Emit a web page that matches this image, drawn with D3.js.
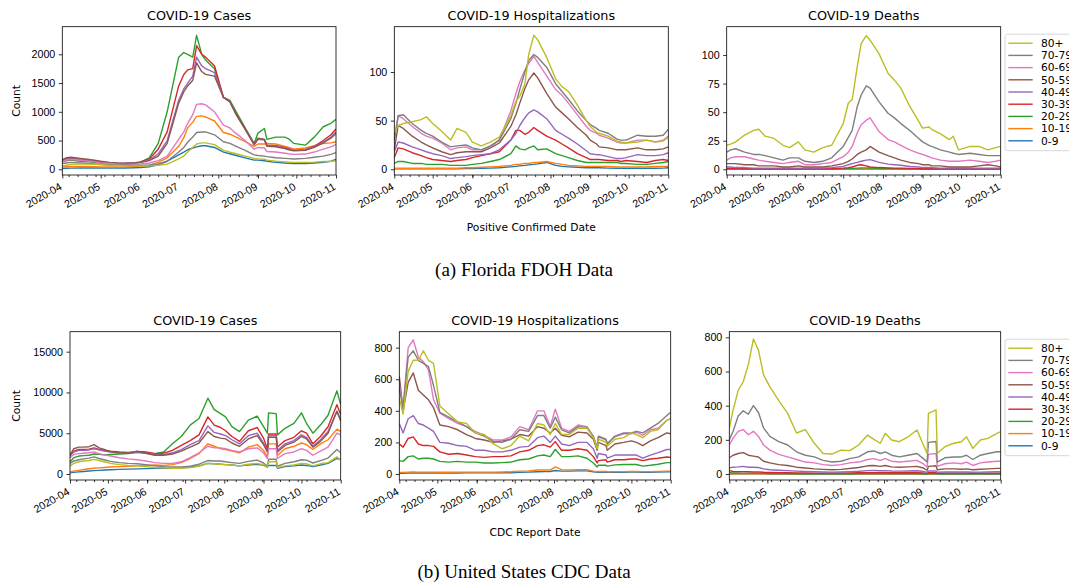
<!DOCTYPE html>
<html>
<head>
<meta charset="utf-8">
<script src="https://cdn.jsdelivr.net/npm/d3@7"></script>
<style>
  body { margin: 0; background: #fff; }
  svg { display: block; font-family: "DejaVu Sans", sans-serif; }
  .axis text { font-size: 10.7px; fill: #000; }
  .axis line { stroke: #000; stroke-width: 0.8; }
  .panel-title { font-size: 12.8px; text-anchor: middle; }
  .axis-title { font-size: 10.7px; text-anchor: middle; }
  .legend text { font-size: 10.7px; }
  .caption { font-family: "Liberation Serif", "DejaVu Serif", serif; font-size: 19px; text-anchor: middle; }
</style>
</head>
<body>
<svg id="chart" width="1069" height="586"></svg>
<script>
const AGE_GROUPS = ['0-9', '10-19', '20-29', '30-39', '40-49', '50-59', '60-69', '70-79', '80+'];
const AGE_COLORS = ['#1f77b4', '#ff7f0e', '#2ca02c', '#d62728', '#9467bd', '#8c564b', '#e377c2', '#7f7f7f', '#bcbd22'];
const MONTH_TICKS = ['2020-04-01', '2020-05-01', '2020-06-01', '2020-07-01', '2020-08-01', '2020-09-01', '2020-10-01', '2020-11-01'];

// Florida FDOH, by positive confirmed date
const FL_DATES = ['2020-04-01','2020-04-04','2020-04-08','2020-04-15','2020-04-22','2020-04-26',
  '2020-05-01','2020-05-08','2020-05-15','2020-05-20','2020-05-27',
  '2020-06-01','2020-06-08','2020-06-15','2020-06-22',
  '2020-07-01','2020-07-05','2020-07-08','2020-07-12','2020-07-15','2020-07-19','2020-07-22','2020-07-29',
  '2020-08-05','2020-08-10','2020-08-15','2020-08-22','2020-08-29',
  '2020-09-01','2020-09-06','2020-09-08','2020-09-15','2020-09-22','2020-09-25','2020-09-29',
  '2020-10-08','2020-10-15','2020-10-22','2020-10-28','2020-11-01'];

const FL_CASES = [
  [15,18,20,22,22,22, 22,22,22,24,28, 32,45,80,140, 250,300,340,370,390,410,410,380, 300,270,240,200,160, 160,150,140,120,110,105,100, 100,110,120,140, 170],
  [40,45,50,50,48,45, 42,40,40,42,48, 55,70,120,200, 400,550,720,820,920,930,910,840, 640,610,560,480,400, 440,440,450,440,400,380,350, 370,410,450,460, 480],
  [130,150,160,140,130,120, 110,105,100,100,110, 120,200,450,1000, 1950,2030,2000,1950,2330,2000,1900,1750, 1250,1200,1000,720,450, 630,710,520,560,560,530,450, 420,560,740,800, 870],
  [150,180,190,170,150,140, 120,110,100,100,110, 130,180,350,650, 1450,1650,1730,1750,2150,2000,1950,1800, 1250,1180,950,700,430, 530,520,420,410,380,360,330, 340,400,500,600, 700],
  [160,190,200,180,160,150, 130,115,100,100,110, 120,160,270,500, 1200,1400,1500,1620,1950,1800,1750,1680, 1250,1170,950,700,430, 520,510,410,400,370,350,330, 340,390,470,560, 650],
  [170,200,210,190,170,160, 140,120,105,100,110, 120,150,230,450, 1150,1350,1450,1550,1850,1700,1650,1620, 1250,1180,960,700,440, 540,520,400,390,360,340,320, 330,380,460,540, 620],
  [130,160,170,160,140,130, 110,100,90,85,90, 95,110,150,230, 520,650,800,950,1130,1140,1120,1000, 770,720,620,500,350, 380,370,310,300,280,270,260, 265,300,350,390, 430],
  [100,110,120,110,100,95, 85,80,75,70,70, 70,75,95,140, 300,380,470,560,640,650,650,600, 480,450,400,330,250, 240,230,220,200,190,185,180, 190,210,230,260, 290],
  [60,70,85,90,90,85, 80,70,65,60,60, 60,60,70,90, 180,230,300,380,440,460,460,430, 330,300,270,230,190, 180,175,160,140,130,125,120, 120,125,135,140, 150]
];

const FL_HOSP = [
  [0.5,0.5,0.5,0.5,0.5,0.5, 0.5,0.5,0.5,0.6,0.7, 0.8,1,1.2,1.5, 2.5,3,3.5,4,4.5,5,5.5,7, 4,3,2.5,2,1.5, 1.5,1.5,1.5,1.2,1,1,1, 1,1,1,1.2, 1.5],
  [1,1,1,1,1,1, 1,1,1,1,1.5, 1.5,2,2.5,3, 4,5,5,6,6,7,7,8, 6,5,4,3.5,3, 3,3,3,3,2.5,2.5,2.5, 2.5,2.5,3,3, 3],
  [6,8,8,6,6,5, 5,5,4,4,4, 5,6,8,10, 16,24,21,20,22,24,20,21, 16,14,12,9,7, 7,7,7,7,7,6,6, 5,5,6,7, 8],
  [12,22,21,17,14,12, 10,9,8,9,10, 12,14,16,18, 30,40,40,36,38,43,40,34, 30,26,22,16,12, 10,10,10,9,9,8,9, 8,7,9,10, 9],
  [18,28,27,23,20,18, 16,14,11,12,13, 14,15,16,20, 30,37,45,53,58,61,59,52, 40,36,32,26,19, 16,15,15,13,11,11,12, 15,14,14,15, 17],
  [20,45,42,34,28,25, 22,18,15,17,18, 18,18,22,27, 44,56,68,83,92,99,94,78, 64,58,52,43,35, 30,26,23,22,20,20,20, 22,20,20,21, 23],
  [30,55,52,44,37,34, 32,27,20,22,23, 20,20,23,30, 60,78,90,102,109,116,110,96, 82,76,68,56,44, 40,37,35,32,28,27,27, 30,30,28,30, 34],
  [30,55,56,47,40,37, 34,28,23,24,25, 22,20,24,30, 52,68,82,100,112,118,115,105, 88,80,72,60,50, 46,42,40,37,31,30,30, 35,34,34,35, 41],
  [37,45,47,49,51,54, 47,39,30,42,38, 28,24,28,33, 55,70,75,88,118,138,133,115, 93,85,80,66,50, 44,38,37,34,29,28,27, 28,30,28,29, 33]
];

const FL_DEATHS = [
  [0,0,0,0,0,0, 0,0,0,0,0, 0,0,0,0, 0.1,0.1,0.1,0.2,0.2,0.2,0.2,0.1, 0.1,0.1,0.1,0,0, 0,0,0,0,0,0,0, 0,0,0,0, 0],
  [0,0,0,0,0,0, 0,0,0,0,0, 0,0,0,0.1, 0.1,0.2,0.2,0.3,0.3,0.3,0.3,0.2, 0.2,0.2,0.1,0.1,0.1, 0.1,0.1,0.1,0.1,0.1,0.1,0.1, 0.1,0.1,0.1,0.1, 0.1],
  [0.3,0.3,0.3,0.2,0.2,0.2, 0.2,0.2,0.2,0.2,0.2, 0.2,0.2,0.3,0.3, 0.5,0.7,0.8,1,1.2,1.2,1.1,0.9, 0.7,0.6,0.5,0.4,0.4, 0.3,0.3,0.3,0.3,0.3,0.3,0.3, 0.3,0.3,0.3,0.3, 0.3],
  [0.8,0.8,0.7,0.6,0.5,0.5, 0.5,0.5,0.4,0.4,0.4, 0.4,0.4,0.5,0.7, 1,1.5,2,3.5,4,3,2,1.5, 1.2,1,1,0.8,0.6, 0.5,0.5,0.5,0.5,0.5,0.5,0.5, 0.5,0.5,0.5,0.5, 0.5],
  [2,2,1.5,1.5,1,1, 1,1,1,1,1, 1,1,1,1.5, 2.5,4,5,6,7,8,8.5,6, 4.5,4,3.5,2.5,2, 1.5,1.5,1.5,1,1,1,1, 1,1,1,1, 1],
  [5,5,5,4,4,3, 3,3,2,2,3, 2,2,2,3, 5,7,9,13,15,17,20,15, 12,10,8,6,5, 4,4,3,3,2,2,2, 2,3,4,3, 2],
  [8,10,11,11,9,8, 7,6,5,6,7, 4,4,5,6, 11,15,20,32,39,43,45,33, 26,24,21,17,14, 13,11,10,8,7,7,7, 8,7,6,7, 8],
  [15,17,18,15,13,13, 12,10,8,10,10, 7,6,7,10, 20,28,34,55,65,73,71,59, 49,45,40,34,27, 24,21,20,17,15,14,13, 14,13,12,12, 12],
  [21,22,24,30,34,35, 29,27,21,19,24, 17,15,19,21, 40,58,61,90,110,117,113,101, 84,78,71,55,42, 36,37,35,31,26,29,17, 20,20,17,19, 20]
];

// United States CDC, by report date
const US_DATES = ['2020-04-01','2020-04-04','2020-04-08','2020-04-12','2020-04-16','2020-04-20','2020-04-24','2020-04-28',
  '2020-05-03','2020-05-10','2020-05-17','2020-05-24','2020-05-31',
  '2020-06-07','2020-06-14','2020-06-21','2020-06-28',
  '2020-07-05','2020-07-12','2020-07-19','2020-07-24','2020-07-29',
  '2020-08-02','2020-08-07','2020-08-13','2020-08-20','2020-08-27',
  '2020-09-01','2020-09-04','2020-09-05','2020-09-11','2020-09-12','2020-09-18','2020-09-25',
  '2020-10-01','2020-10-05','2020-10-10','2020-10-16','2020-10-22','2020-10-29','2020-11-01'];

const US_CASES = [
  [150,200,260,310,360,410,450,490, 530,570,600,630,660, 690,700,720,750, 850,1000,1300,1250,1200, 1150,1100,1000,1100,1200, 1050,900,1050,1050,700,900,1000, 1100,1050,900,1100,1300,1900, 1800],
  [250,350,450,550,650,700,750,800, 850,900,950,1000,1050, 1100,1050,1150,1400, 1900,2500,3700,3400,3100, 3000,2800,2600,3300,3600, 2900,2100,3700,3700,2300,3100,3400, 3800,3600,3000,3700,4200,5500, 5200],
  [1500,2000,2200,2250,2300,2450,2400,2350, 2400,2450,2500,2650,2600, 2500,2700,3700,4600, 6000,6800,9300,7900,7400, 7000,5800,5200,6600,7100, 5800,5000,7500,7400,4800,5600,6200, 7500,6200,5000,6000,7200,10200, 8500],
  [2300,2800,3000,3000,3050,3200,3000,2900, 2800,2700,2650,2750,2700, 2500,2550,2900,3500, 4100,4800,7000,6000,5700, 5300,4600,4000,5300,5700, 4400,3100,4900,4900,3300,4100,4500, 5300,5000,3700,4600,5800,8500, 7300],
  [2200,2700,2900,2900,2950,3100,2950,2800, 2700,2600,2550,2650,2550, 2400,2400,2600,3000, 3600,4100,5900,5100,4900, 4700,4200,3700,4700,5000, 3800,2800,4700,4700,2900,3700,4100, 4800,4500,3400,4200,5200,7700, 6700],
  [2300,3100,3300,3300,3350,3600,3200,3000, 2750,2600,2550,2800,2550, 2300,2300,2450,2800, 3300,3800,5200,4600,4400, 4300,3800,3400,4300,4700, 3600,2700,4500,4500,2700,3500,3900, 4600,4300,3300,4000,5000,7700, 6500],
  [2000,2400,2500,2550,2600,2700,2500,2350, 2200,2000,1850,1750,1600, 1400,1300,1300,1500, 2000,2600,3400,3200,3200, 3100,2900,2700,3100,3200, 2600,1900,3100,3100,1900,2500,2700, 3100,2900,2300,2800,3300,5000, 4800],
  [1300,1600,1750,1850,1950,2100,1900,1750, 1550,1400,1300,1250,1150, 1000,900,850,850, 950,1200,1650,1600,1600, 1500,1400,1300,1550,1700, 1350,950,1800,1800,950,1300,1500, 1750,1700,1350,1650,1950,3000, 2600],
  [1000,1300,1500,1600,1650,1800,1650,1500, 1300,1150,1050,1000,900, 800,750,700,700, 780,950,1300,1250,1200, 1150,1100,1000,1200,1300, 1100,780,1500,1500,780,1000,1100, 1300,1250,1000,1250,1400,2100, 1700]
];

const US_HOSP = [
  [5,5,6,6,6,6,6,6, 6,6,6,7,7, 7,7,8,8, 10,12,14,15,16, 22,18,18,20,20, 14,10,11,11,10,11,11, 12,12,11,11,12,14, 14],
  [10,10,12,13,12,12,12,12, 11,11,12,12,12, 12,12,13,14, 18,20,25,26,25, 45,28,26,28,28, 18,14,16,16,14,15,15, 16,16,15,15,16,18, 18],
  [85,80,110,115,95,100,100,95, 80,75,80,75,75, 70,70,72,75, 90,95,115,120,110, 155,110,110,115,100, 70,45,55,55,50,58,60, 60,60,50,55,62,72, 72],
  [190,170,225,235,190,180,180,175, 140,125,130,120,110, 105,110,110,115, 140,150,180,185,170, 205,150,150,160,150, 110,70,85,90,75,90,90, 95,95,85,95,100,108, 105],
  [320,260,350,370,320,310,290,270, 200,195,180,175,150, 150,140,140,150, 170,175,230,240,200, 240,190,180,200,200, 160,100,130,120,100,120,120, 120,120,100,120,135,155, 155],
  [620,400,580,640,530,500,470,420, 310,300,280,250,225, 215,200,210,220, 250,240,300,290,260, 290,245,235,265,260, 220,150,200,180,150,190,200, 210,200,180,210,230,260, 255],
  [560,420,800,850,740,710,660,470, 385,350,320,300,270, 245,215,215,235, 300,280,400,400,300, 410,290,270,310,300, 235,175,235,215,195,235,255, 255,265,245,280,290,340, 350],
  [540,420,740,780,720,700,680,560, 390,360,330,300,260, 240,205,200,220, 280,270,370,370,290, 360,280,260,300,295, 240,160,240,220,190,240,260, 260,270,260,290,320,370, 390],
  [480,380,650,720,720,780,720,700, 430,380,330,320,260, 250,190,160,180, 240,210,320,310,250, 320,250,250,290,290, 230,160,220,200,175,220,230, 260,250,230,270,280,340, 350]
];

const US_DEATHS = [
  [1,1,1,1,1,1,1,1, 0.5,0.5,0.5,0.5,0.5, 0.5,0.5,0.5,0.5, 0.5,0.5,0.5,0.5,0.5, 0.5,0.5,0.5,0.5,0.5, 0.5,0.5,0.5,0.5,0.5,0.5,0.5, 0.5,0.5,0.5,0.5,0.5,0.5, 0.5],
  [1,1,1,1,1,1,1,1, 1,1,1,1,1, 1,1,1,1, 1,1,1,1,1, 1,1,1,1,1, 1,1,1,1,1,1,1, 1,1,1,1,1,1, 1],
  [8,6,6,5,5,5,4,4, 3,3,3,2,2, 2,2,2,2, 2,3,3,3,3, 3,3,3,3,3, 2,2,3,3,2,2,2, 2,2,2,2,2,2, 2],
  [20,15,14,14,13,12,12,10, 9,8,7,6,6, 5,5,5,5, 6,7,8,8,8, 8,7,7,7,7, 6,4,7,7,4,5,5, 5,5,4,5,5,5, 5],
  [35,40,42,45,40,40,38,30, 25,22,20,17,15, 13,12,11,12, 14,16,20,21,19, 20,18,17,18,19, 15,10,18,18,10,12,12, 12,12,10,11,12,13, 13],
  [95,110,120,125,110,105,100,75, 65,55,50,40,35, 30,27,25,27, 32,38,48,50,45, 50,42,40,42,45, 35,22,45,48,25,30,30, 28,30,25,28,30,33, 33],
  [170,210,250,260,230,250,220,170, 140,115,100,85,70, 65,55,50,55, 65,70,85,90,80, 90,75,70,75,80, 60,40,115,120,45,60,65, 60,70,50,65,70,75, 75],
  [200,250,340,370,350,400,360,270, 220,190,170,130,110, 100,80,70,75, 90,100,130,135,120, 130,110,100,110,120, 90,70,185,190,70,95,100, 100,110,85,110,120,130, 130],
  [270,375,490,540,640,790,725,580, 510,430,355,240,260, 180,120,117,140, 137,170,228,203,180, 238,199,189,218,258, 170,121,355,375,121,160,180, 189,218,150,199,209,238, 248]
];

class AgeLineChart {
  constructor(_config, _dates, _series) {
    this.config = {
      parentElement: _config.parentElement,
      id: _config.id,
      left: _config.left,
      top: _config.top,
      width: _config.width,
      height: _config.height,
      yDomain: _config.yDomain,
      yTicks: _config.yTicks,
      title: _config.title,
      yLabel: _config.yLabel || null,
      xLabel: _config.xLabel || null,
      legend: _config.legend || false
    };
    const parse = d3.utcParse('%Y-%m-%d');
    this.dates = _dates.map(parse);
    this.series = _series;
    this.initVis();
    this.renderVis();
  }

  initVis() {
    let vis = this;
    const c = vis.config;

    vis.svg = d3.select(c.parentElement);
    vis.chart = vis.svg.append('g')
        .attr('transform', `translate(${c.left},${c.top})`);

    vis.xScale = d3.scaleUtc()
        .domain([new Date(Date.UTC(2020, 3, 1)), new Date(Date.UTC(2020, 10, 1))])
        .range([0, c.width]);
    vis.yScale = d3.scaleLinear()
        .domain(c.yDomain)
        .range([c.height, 0]);

    vis.chart.append('clipPath').attr('id', `clip-${c.id}`)
      .append('rect').attr('width', c.width).attr('height', c.height);

    // weekly minor ticks (mondays), then monthly major ticks
    const minor = d3.utcMonday.range(vis.xScale.domain()[0], vis.xScale.domain()[1]);
    vis.chart.append('g')
        .attr('class', 'axis')
        .attr('transform', `translate(0,${c.height})`)
        .call(d3.axisBottom(vis.xScale).tickValues(minor).tickSize(2).tickFormat(''))
        .call(g => g.select('.domain').remove());

    vis.xAxisG = vis.chart.append('g')
        .attr('class', 'axis x-axis')
        .attr('transform', `translate(0,${c.height})`)
        .call(d3.axisBottom(vis.xScale)
          .tickValues(MONTH_TICKS.map(d3.utcParse('%Y-%m-%d')))
          .tickFormat(d3.utcFormat('%Y-%m'))
          .tickSize(3.5))
        .call(g => g.select('.domain').remove());
    vis.xAxisG.selectAll('text')
        .attr('x', 0).attr('y', 0).attr('dy', '0.72em')
        .attr('text-anchor', 'end')
        .attr('transform', 'translate(-4,7) rotate(-30)');

    vis.chart.append('g')
        .attr('class', 'axis y-axis')
        .call(d3.axisLeft(vis.yScale).tickValues(c.yTicks).tickFormat(d3.format('d')).tickSize(3.5).tickPadding(3.5))
        .call(g => g.select('.domain').remove());

    vis.chart.append('text').attr('class', 'panel-title')
        .attr('x', c.width / 2).attr('y', -6.5).text(c.title);

    if (c.yLabel) {
      vis.svg.append('text').attr('class', 'axis-title')
          .attr('transform', `translate(20,${c.top + c.height / 2}) rotate(-90)`)
          .text(c.yLabel);
    }
    if (c.xLabel) {
      vis.chart.append('text').attr('class', 'axis-title')
          .attr('x', c.width / 2).attr('y', c.height + 56.5)
          .text(c.xLabel);
    }
  }

  renderVis() {
    let vis = this;
    const c = vis.config;

    const line = d3.line()
        .x((d, i) => vis.xScale(vis.dates[i]))
        .y(d => vis.yScale(d));

    vis.chart.append('g')
        .attr('clip-path', `url(#clip-${c.id})`)
      .selectAll('.age-line')
      .data(vis.series)
      .join('path')
        .attr('class', 'age-line')
        .attr('fill', 'none')
        .attr('stroke', (d, i) => AGE_COLORS[i])
        .attr('stroke-width', 1.4)
        .attr('stroke-linejoin', 'round')
        .attr('d', line);

    vis.chart.append('rect')
        .attr('width', c.width).attr('height', c.height)
        .attr('fill', 'none').attr('stroke', '#000').attr('stroke-width', 0.8);

    if (c.legend) {
      const lx = c.width + 4.3, ly = 7.5;
      const lg = vis.chart.append('g').attr('class', 'legend')
          .attr('transform', `translate(${lx},${ly})`);
      lg.append('rect')
          .attr('width', 90).attr('height', 116.5).attr('rx', 2.5)
          .attr('fill', '#fff').attr('fill-opacity', 0.8)
          .attr('stroke', '#ccc').attr('stroke-width', 0.8);
      const order = d3.range(AGE_GROUPS.length).reverse();
      const items = lg.selectAll('.item').data(order).join('g')
          .attr('class', 'item')
          .attr('transform', (d, i) => `translate(0,${9 + i * 12.2})`);
      items.append('line')
          .attr('x1', 3.3).attr('x2', 27.7)
          .attr('stroke', d => AGE_COLORS[d]).attr('stroke-width', 1.4);
      items.append('text')
          .attr('x', 36).attr('dy', '0.35em')
          .text(d => AGE_GROUPS[d]);
    }
  }
}

const svg = d3.select('#chart');
svg.append('rect').attr('width', 1069).attr('height', 586).attr('fill', '#fff');

new AgeLineChart({ parentElement: '#chart', id: 'fl-cases', left: 62.3, top: 26.7, width: 273.7, height: 148.3,
  yDomain: [-99, 2480], yTicks: [0, 500, 1000, 1500, 2000], title: 'COVID-19 Cases', yLabel: 'Count' }, FL_DATES, FL_CASES);
new AgeLineChart({ parentElement: '#chart', id: 'fl-hosp', left: 394.3, top: 26.7, width: 274, height: 148.3,
  yDomain: [-5.9, 146.6], yTicks: [0, 50, 100], title: 'COVID-19 Hospitalizations', xLabel: 'Positive Confirmed Date' }, FL_DATES, FL_HOSP);
new AgeLineChart({ parentElement: '#chart', id: 'fl-deaths', left: 726.7, top: 26.7, width: 274, height: 148.3,
  yDomain: [-5, 124.8], yTicks: [0, 25, 50, 75, 100], title: 'COVID-19 Deaths', legend: true }, FL_DATES, FL_DEATHS);

new AgeLineChart({ parentElement: '#chart', id: 'us-cases', left: 70, top: 331.7, width: 270.7, height: 148.3,
  yDomain: [-736, 17450], yTicks: [0, 5000, 10000, 15000], title: 'COVID-19 Cases', yLabel: 'Count' }, US_DATES, US_CASES);
new AgeLineChart({ parentElement: '#chart', id: 'us-hosp', left: 399.3, top: 331.7, width: 271.4, height: 148.3,
  yDomain: [-38, 901], yTicks: [0, 200, 400, 600, 800], title: 'COVID-19 Hospitalizations', xLabel: 'CDC Report Date' }, US_DATES, US_HOSP);
new AgeLineChart({ parentElement: '#chart', id: 'us-deaths', left: 729.3, top: 331.7, width: 271.4, height: 148.3,
  yDomain: [-35, 833], yTicks: [0, 200, 400, 600, 800], title: 'COVID-19 Deaths', legend: true }, US_DATES, US_DEATHS);

svg.append('text').attr('class', 'caption').attr('x', 524).attr('y', 275.5).text('(a) Florida FDOH Data');
svg.append('text').attr('class', 'caption').attr('x', 524).attr('y', 578).text('(b) United States CDC Data');
</script>
</body>
</html>
